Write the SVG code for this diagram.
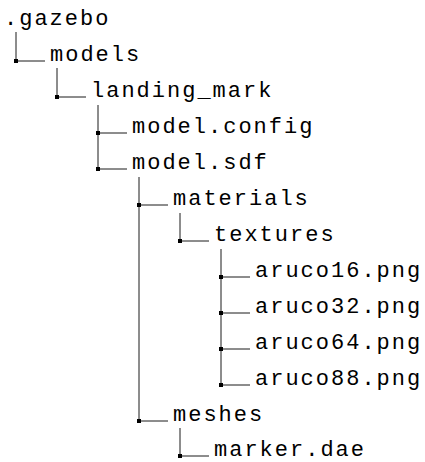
<svg xmlns="http://www.w3.org/2000/svg" width="425" height="462" viewBox="0 0 425 462">
<style>
text{font-family:"Liberation Mono","DejaVu Sans Mono",monospace;font-size:22px;letter-spacing:2px;fill:#000}
.c line{stroke:#000;stroke-width:0.9}
.c rect{fill:#000}
</style>
<rect width="425" height="462" fill="#fff"/>
<g class="c" id="connectors">
<line x1="16" y1="32" x2="16" y2="61"/><line x1="16" y1="61" x2="45" y2="61"/><rect x="14" y="59" width="4" height="4"/>
<line x1="57" y1="68" x2="57" y2="97"/><line x1="57" y1="97" x2="86" y2="97"/><rect x="55" y="95" width="4" height="4"/>
<line x1="98" y1="105" x2="98" y2="169"/>
<line x1="98" y1="133" x2="127" y2="133"/><rect x="96" y="131" width="4" height="4"/>
<line x1="98" y1="169" x2="127" y2="169"/><rect x="96" y="167" width="4" height="4"/>
<line x1="139" y1="177" x2="139" y2="421"/>
<line x1="139" y1="205" x2="168" y2="205"/><rect x="137" y="203" width="4" height="4"/>
<line x1="139" y1="421" x2="168" y2="421"/><rect x="137" y="419" width="4" height="4"/>
<line x1="180" y1="213" x2="180" y2="241"/><line x1="180" y1="241" x2="209" y2="241"/><rect x="178" y="239" width="4" height="4"/>
<line x1="221" y1="249" x2="221" y2="385"/>
<line x1="221" y1="277" x2="250" y2="277"/><rect x="219" y="275" width="4" height="4"/>
<line x1="221" y1="313" x2="250" y2="313"/><rect x="219" y="311" width="4" height="4"/>
<line x1="221" y1="349" x2="250" y2="349"/><rect x="219" y="347" width="4" height="4"/>
<line x1="221" y1="385" x2="250" y2="385"/><rect x="219" y="383" width="4" height="4"/>
<line x1="180" y1="428" x2="180" y2="456"/><line x1="180" y1="456" x2="209" y2="456"/><rect x="178" y="454" width="4" height="4"/>
</g>
<g id="gazebo"><text x="4" y="25">.gazebo</text></g>
<g id="models"><text x="50" y="61">models</text></g>
<g id="landing_mark"><text x="91" y="97">landing_mark</text></g>
<g id="model_config"><text x="132" y="133">model.config</text></g>
<g id="model_sdf"><text x="132" y="169">model.sdf</text></g>
<g id="materials"><text x="173" y="205">materials</text></g>
<g id="textures"><text x="214" y="241">textures</text></g>
<g id="aruco16"><text x="255" y="277">aruco16.png</text></g>
<g id="aruco32"><text x="255" y="313">aruco32.png</text></g>
<g id="aruco64"><text x="255" y="349">aruco64.png</text></g>
<g id="aruco88"><text x="255" y="385">aruco88.png</text></g>
<g id="meshes"><text x="173" y="421">meshes</text></g>
<g id="marker_dae"><text x="214" y="456">marker.dae</text></g>
</svg>
